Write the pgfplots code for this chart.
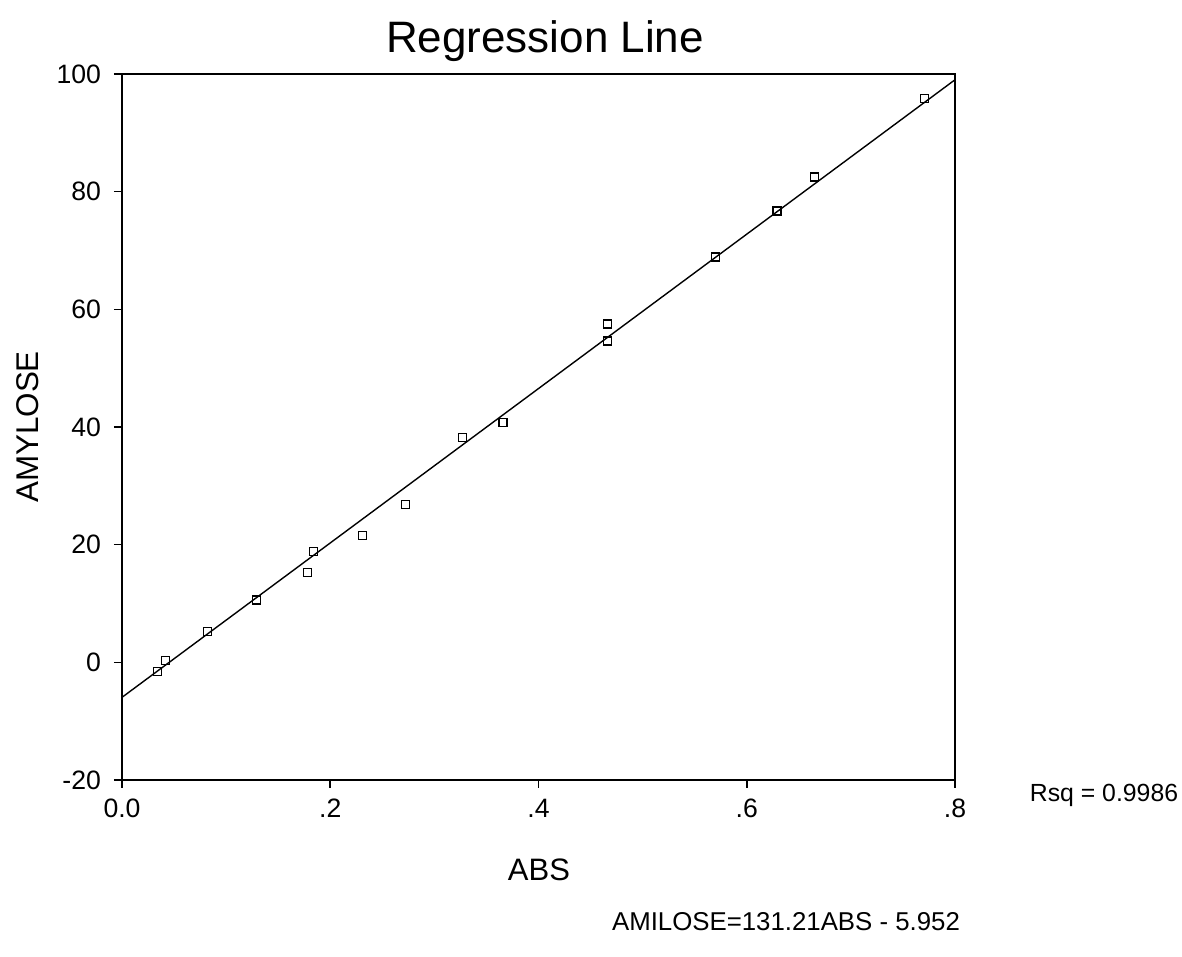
\documentclass[border=0pt]{standalone}
\usepackage{pgfplots}
\pgfplotsset{compat=1.18}
\usepackage{fontspec}
\setmainfont{Liberation Sans}
\begin{document}
\begin{tikzpicture}
\begin{axis}[
  name=ax,
  at={(0,0)}, anchor=south west,
  scale only axis,
  width=416.5pt, height=353pt,
  xmin=0, xmax=0.8, ymin=-20, ymax=100,
  axis line style={line width=1pt},
  xtick={0,0.2,0.4,0.6,0.8},
  xticklabels={0.0,.2,.4,.6,.8},
  ytick={-20,0,20,40,60,80,100},
  yticklabels={-20,0,20,40,60,80,100},
  tick align=outside,
  xtick pos=left, ytick pos=left,
  major tick length=4pt,
  tick style={black, line width=0.8pt},
  ticklabel style={font=\fontsize{13.3}{15}\selectfont},
  yticklabel style={xshift=-3pt},
  xticklabel style={yshift=-2pt},
  clip=false,
]
\addplot[black, line width=0.7pt] coordinates {(0,-5.952) (0.8,99.016)};
\addplot[only marks, mark=square, mark size=2pt, mark options={black, line width=0.6pt}] coordinates {
(0.034,-1.5) (0.042,0.3) (0.082,5.3) (0.129,10.6) (0.178,15.3) (0.184,18.8)
(0.231,21.5) (0.272,26.8) (0.327,38.2) (0.366,40.8) (0.466,57.5) (0.466,54.6)
(0.570,68.9) (0.629,76.7) (0.665,82.5) (0.771,95.9)
};
\end{axis}
\node[font=\fontsize{22}{26}\selectfont] at ([shift={(211.5pt,369.5pt)}]ax.south west) {Regression Line};
\node[font=\fontsize{15.5}{18}\selectfont] at ([shift={(208.5pt,-45pt)}]ax.south west) {ABS};
\node[font=\fontsize{15.7}{18}\selectfont, rotate=90] at ([shift={(-47pt,176.5pt)}]ax.south west) {AMYLOSE};
\node[font=\fontsize{12.4}{15}\selectfont] at ([shift={(491pt,-7.5pt)}]ax.south west) {Rsq = 0.9986};
\node[font=\fontsize{12.9}{15}\selectfont] at ([shift={(332pt,-71pt)}]ax.south west) {AMILOSE=131.21ABS - 5.952};
\pgfresetboundingbox
\path[use as bounding box] ([shift={(-61pt,-88.5pt)}]ax.south west) rectangle ([shift={(530pt,390pt)}]ax.south west);
\end{tikzpicture}
\end{document}
